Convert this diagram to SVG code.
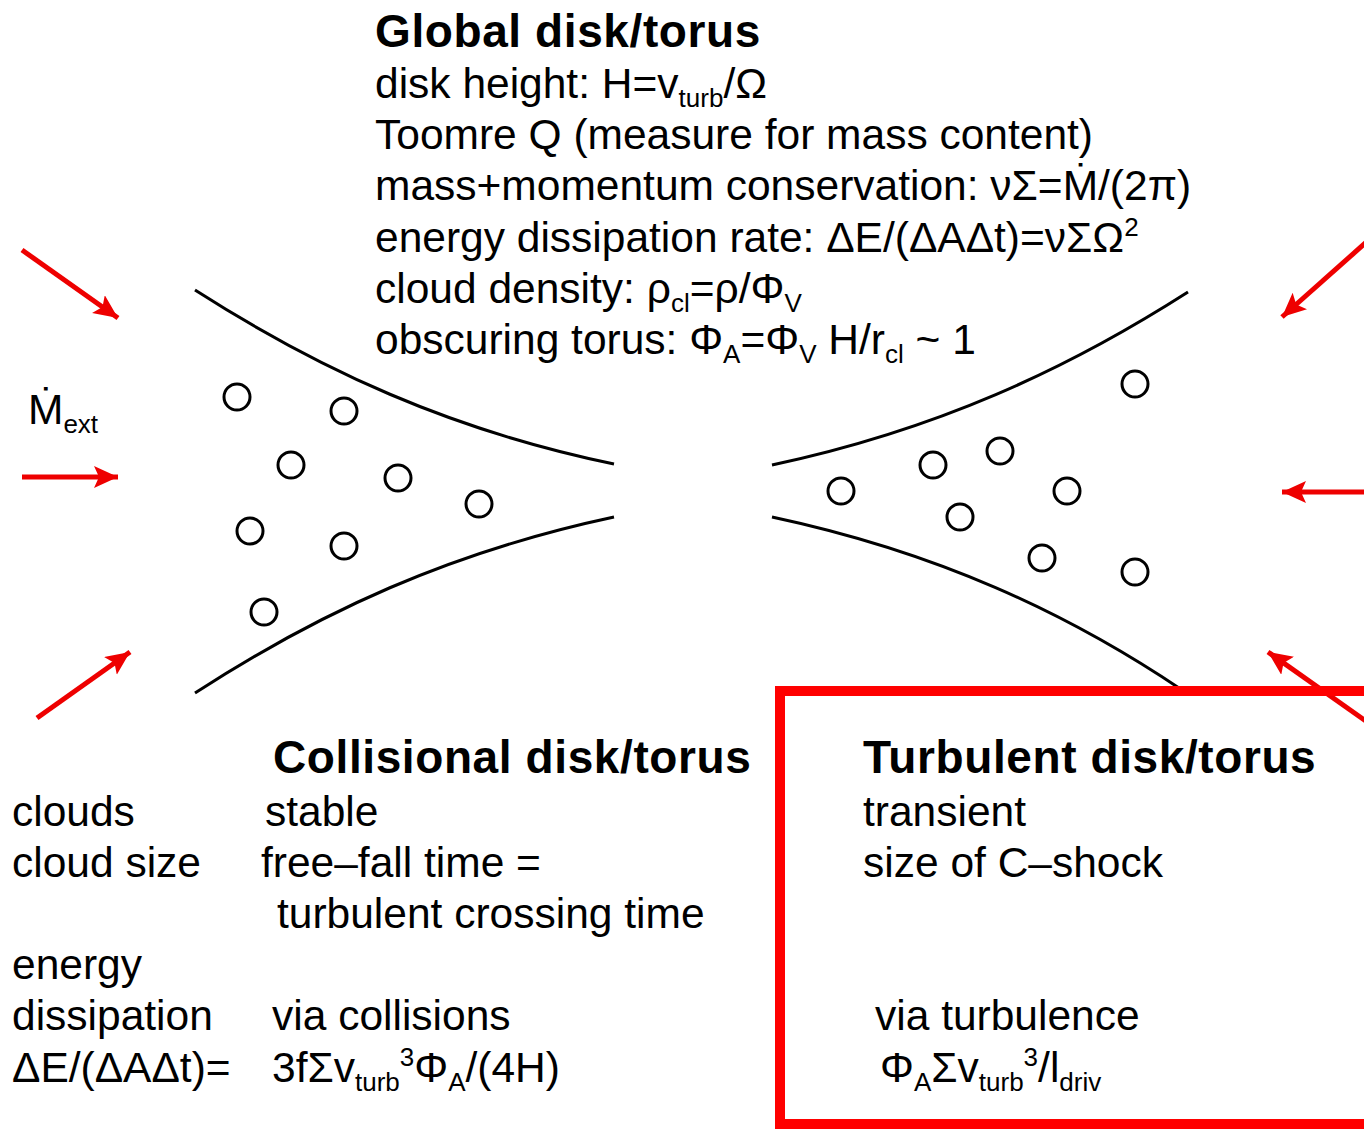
<svg xmlns="http://www.w3.org/2000/svg" width="1364" height="1129" viewBox="0 0 1364 1129">
  <style>
    text { font-family: "Liberation Sans", Arial, "Noto Sans", sans-serif; fill: #000; }
    .t { font-size: 42.5px; }
    .h { font-size: 46px; font-weight: bold; letter-spacing: 0.6px; }
    .sub { font-size: 26px; }
    .curve { fill: none; stroke: #000; stroke-width: 3; }
    .cloud { fill: none; stroke: #000; stroke-width: 3; }
    .arrow { stroke: #e00; stroke-width: 5; fill: none; marker-end: url(#ah); }
  </style>
  <defs>
    <marker id="ah" markerUnits="userSpaceOnUse" markerWidth="28" markerHeight="24" refX="24" refY="11" orient="auto">
      <path d="M0,0 L24,11 L0,22 L5,11 Z" fill="#e00"/>
    </marker>
  </defs>
  <rect width="1364" height="1129" fill="#fff"/>

  <g id="global-text">
    <text class="h" x="375" y="47">Global disk/torus</text>
    <text class="t" x="375" y="98">disk height: H=v<tspan class="sub" dy="9">turb</tspan><tspan dy="-9">/Ω</tspan></text>
    <text class="t" x="375" y="149">Toomre Q (measure for mass content)</text>
    <text class="t" x="375" y="200">mass+momentum conservation: νΣ=Ṁ/(2π)</text>
    <text class="t" x="375" y="252">energy dissipation rate: ΔE/(ΔAΔt)=νΣΩ<tspan class="sub" dy="-16">2</tspan></text>
    <text class="t" x="375" y="303">cloud density: ρ<tspan class="sub" dy="9">cl</tspan><tspan dy="-9">=ρ/Φ</tspan><tspan class="sub" dy="9">V</tspan></text>
    <text class="t" x="375" y="354">obscuring torus: Φ<tspan class="sub" dy="9">A</tspan><tspan dy="-9">=Φ</tspan><tspan class="sub" dy="9">V</tspan><tspan dy="-9"> H/r</tspan><tspan class="sub" dy="9">cl</tspan><tspan dy="-9"> ~ 1</tspan></text>
  </g>

  <g id="mdot-label">
    <text class="t" x="28" y="424">Ṁ<tspan class="sub" dy="9">ext</tspan></text>
  </g>

  <g id="left-disk">
    <path class="curve" d="M195,290 C320,370 450,430 614,464"/>
    <path class="curve" d="M195,693 C320,612 450,552 614,517"/>
    <circle class="cloud" cx="237" cy="397" r="13"/>
    <circle class="cloud" cx="344" cy="411" r="13"/>
    <circle class="cloud" cx="291" cy="465" r="13"/>
    <circle class="cloud" cx="398" cy="478" r="13"/>
    <circle class="cloud" cx="479" cy="504" r="13"/>
    <circle class="cloud" cx="250" cy="531" r="13"/>
    <circle class="cloud" cx="344" cy="546" r="13"/>
    <circle class="cloud" cx="264" cy="612" r="13"/>
  </g>

  <g id="right-disk">
    <path class="curve" d="M772,465 C936,430 1066,370 1188,292"/>
    <path class="curve" d="M772,517 C936,552 1066,612 1182,690"/>
    <circle class="cloud" cx="1135" cy="384" r="13"/>
    <circle class="cloud" cx="1000" cy="451" r="13"/>
    <circle class="cloud" cx="933" cy="465" r="13"/>
    <circle class="cloud" cx="841" cy="491" r="13"/>
    <circle class="cloud" cx="1067" cy="491" r="13"/>
    <circle class="cloud" cx="960" cy="517" r="13"/>
    <circle class="cloud" cx="1042" cy="558" r="13"/>
    <circle class="cloud" cx="1135" cy="572" r="13"/>
  </g>

  <g id="connectors">
    <line class="arrow" x1="22" y1="250" x2="118" y2="318"/>
    <line class="arrow" x1="22" y1="477" x2="118" y2="477"/>
    <line class="arrow" x1="37" y1="718" x2="130" y2="652"/>
    <line class="arrow" x1="1380" y1="230" x2="1282" y2="317"/>
    <line class="arrow" x1="1370" y1="492" x2="1282" y2="492"/>
    <line class="arrow" x1="1380" y1="731" x2="1268" y2="652"/>
  </g>

  <g id="collisional">
    <text class="h" x="273" y="773">Collisional disk/torus</text>
    <text class="t" x="12" y="826">clouds</text>
    <text class="t" x="265" y="826">stable</text>
    <text class="t" x="12" y="877">cloud size</text>
    <text class="t" x="261" y="877">free–fall time =</text>
    <text class="t" x="277" y="928">turbulent crossing time</text>
    <text class="t" x="12" y="979">energy</text>
    <text class="t" x="12" y="1030">dissipation</text>
    <text class="t" x="272" y="1030">via collisions</text>
    <text class="t" x="12" y="1082">ΔE/(ΔAΔt)=</text>
    <text class="t" x="272" y="1082">3fΣv<tspan class="sub" dy="9">turb</tspan><tspan class="sub" dy="-25">3</tspan><tspan dy="16">Φ</tspan><tspan class="sub" dy="9">A</tspan><tspan dy="-9">/(4H)</tspan></text>
  </g>

  <g id="turbulent">
    <rect x="780" y="691" width="620" height="433" fill="none" stroke="#f00" stroke-width="10"/>
    <text class="h" x="863" y="773">Turbulent disk/torus</text>
    <text class="t" x="863" y="826">transient</text>
    <text class="t" x="863" y="877">size of C–shock</text>
    <text class="t" x="875" y="1030">via turbulence</text>
    <text class="t" x="880" y="1082">Φ<tspan class="sub" dy="9">A</tspan><tspan dy="-9">Σv</tspan><tspan class="sub" dy="9">turb</tspan><tspan class="sub" dy="-25">3</tspan><tspan dy="16">/l</tspan><tspan class="sub" dy="9">driv</tspan></text>
  </g>
</svg>
